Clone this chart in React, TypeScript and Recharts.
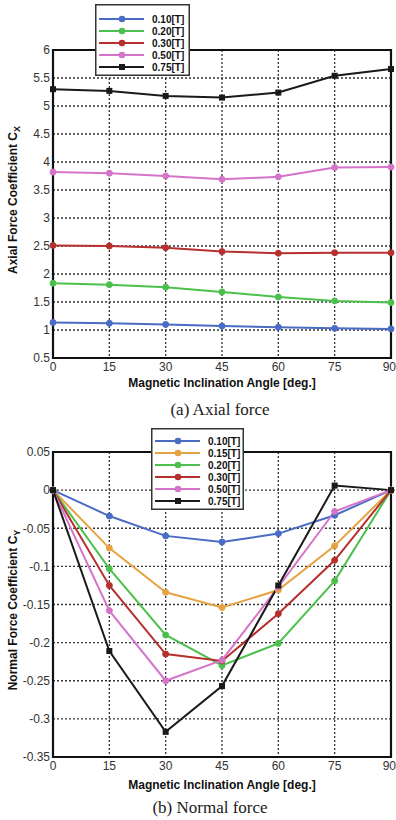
import React from 'react';
import { LineChart, Line, XAxis, YAxis, CartesianGrid, ReferenceArea } from 'recharts';

// ---------- data ----------
const angles = [0, 15, 30, 45, 60, 75, 90];
const angleTicks = [0, 15, 30, 45, 60, 75, 90];

// (a) Axial force coefficient Cx
const cx010 = [1.135, 1.12, 1.10, 1.07, 1.05, 1.03, 1.02];
const cx020 = [1.835, 1.81, 1.765, 1.68, 1.59, 1.52, 1.49];
const cx030 = [2.51, 2.50, 2.47, 2.40, 2.37, 2.38, 2.38];
const cx050 = [3.82, 3.80, 3.75, 3.69, 3.735, 3.90, 3.91];
const cx075 = [5.30, 5.27, 5.18, 5.15, 5.24, 5.54, 5.66];
const cxTicks = [0.5, 1, 1.5, 2, 2.5, 3, 3.5, 4, 4.5, 5, 5.5, 6];

// (b) Normal force coefficient Cy
const cy010 = [0, -0.034, -0.060, -0.068, -0.057, -0.033, 0];
const cy015 = [0, -0.076, -0.134, -0.154, -0.131, -0.073, 0];
const cy020 = [0, -0.103, -0.190, -0.230, -0.201, -0.119, 0];
const cy030 = [0, -0.125, -0.215, -0.224, -0.162, -0.092, 0];
const cy050 = [0, -0.158, -0.250, -0.223, -0.127, -0.028, 0];
const cy075 = [0, -0.211, -0.317, -0.257, -0.125, 0.006, 0];
const cyTicks = [-0.35, -0.3, -0.25, -0.2, -0.15, -0.1, -0.05, 0, 0.05];

const BLUE = '#4a6cc4';
const ORANGE = '#e6a344';
const GREEN = '#4cc04c';
const RED = '#b5302e';
const PINK = '#d574c9';
const BLACK = '#1a1a1a';

const topSeries = [
  { key: 'a', name: '0.10[T]', color: BLUE, values: cx010, square: false },
  { key: 'b', name: '0.20[T]', color: GREEN, values: cx020, square: false },
  { key: 'c', name: '0.30[T]', color: RED, values: cx030, square: false },
  { key: 'd', name: '0.50[T]', color: PINK, values: cx050, square: false },
  { key: 'e', name: '0.75[T]', color: BLACK, values: cx075, square: true },
];
const bottomSeries = [
  { key: 'a', name: '0.10[T]', color: BLUE, values: cy010, square: false },
  { key: 'b', name: '0.15[T]', color: ORANGE, values: cy015, square: false },
  { key: 'c', name: '0.20[T]', color: GREEN, values: cy020, square: false },
  { key: 'd', name: '0.30[T]', color: RED, values: cy030, square: false },
  { key: 'e', name: '0.50[T]', color: PINK, values: cy050, square: false },
  { key: 'f', name: '0.75[T]', color: BLACK, values: cy075, square: true },
];

// minor tick positions (axis decoration)
const minorRange = (lo: number, hi: number, step: number) => {
  const out: number[] = [];
  const n = Math.round((hi - lo) / step);
  for (let i = 0; i <= n; i++) out.push(Math.round((lo + i * step) * 1000) / 1000);
  return out;
};
const minorX = minorRange(0, 90, 3);
const minorTop = minorRange(0.5, 6, 0.1);
const minorBottom = minorRange(-0.35, 0.05, 0.01);

const buildRows = (series: typeof topSeries) =>
  angles.map((a, i) => {
    const row: any = { x: a };
    series.forEach((s) => (row[s.key] = s.values[i]));
    return row;
  });

const FONT = 'Liberation Sans, Arial, sans-serif';
const tickStyle = { fontSize: 12, fill: '#333', fontFamily: FONT };

const XTick = (props: any) => {
  const { x, y, payload } = props;
  const last = payload.value === 90;
  return (
    <text
      x={last ? 396 : x} y={y} dy="0.71em" textAnchor={last ? 'end' : 'middle'}
      style={tickStyle}
    >
      {payload.value}
    </text>
  );
};

const SquareDot = (color: string) => (props: any) => {
  const { cx, cy, index } = props;
  if (cx == null || cy == null) return <g key={index} />;
  return <rect key={index} x={cx - 3} y={cy - 3} width={6} height={6} fill={color} />;
};

function Panel({
  series, domain, ticks, minorY, margin, height,
}: {
  series: typeof topSeries; domain: [number, number]; ticks: number[]; minorY: number[];
  margin: { top: number; right: number; left: number; bottom: number }; height: number;
}) {
  const rows = buildRows(series);
  return (
    <LineChart width={396} height={height} data={rows} margin={margin}>
      <CartesianGrid stroke="#333" strokeDasharray="2 2" strokeWidth={1.3} />
      <XAxis
        dataKey="x" type="number" domain={[0, 90]} ticks={angleTicks}
        tickLine={false} axisLine={false} tickSize={0} tickMargin={4} height={20}
        tick={<XTick />} interval={0}
      />
      <XAxis
        xAxisId="xmin" dataKey="x" type="number" domain={[0, 90]} ticks={minorX}
        mirror tick={false} tickSize={3} axisLine={false} tickLine={{ stroke: '#111', strokeWidth: 1.3 }}
        interval={0}
      />
      <XAxis
        xAxisId="xmaj" dataKey="x" type="number" domain={[0, 90]} ticks={angleTicks}
        mirror tick={false} tickSize={6} axisLine={false} tickLine={{ stroke: '#111', strokeWidth: 1.5 }}
        interval={0}
      />
      <YAxis
        type="number" domain={domain} ticks={ticks} width={53}
        tickLine={false} axisLine={false} tickSize={0} tickMargin={3}
        tick={tickStyle} interval={0} allowDataOverflow
      />
      <YAxis
        yAxisId="ymin" type="number" domain={domain} ticks={minorY}
        mirror tick={false} tickSize={3} axisLine={false} tickLine={{ stroke: '#111', strokeWidth: 1.3 }}
        interval={0} allowDataOverflow
      />
      <YAxis
        yAxisId="ymaj" type="number" domain={domain} ticks={ticks}
        mirror tick={false} tickSize={6} axisLine={false} tickLine={{ stroke: '#111', strokeWidth: 1.5 }}
        interval={0} allowDataOverflow
      />
      <ReferenceArea
        x1={0} x2={90} y1={domain[0]} y2={domain[1]}
        fill="none" fillOpacity={0} stroke="#111" strokeWidth={2.2} ifOverflow="visible"
      />
      {series.map((s) => (
        <Line
          key={s.key} dataKey={s.key} type="linear" stroke={s.color} strokeWidth={2}
          isAnimationActive={false}
          dot={s.square ? SquareDot(s.color) : { r: 3, fill: s.color, stroke: s.color, strokeWidth: 1 }}
          activeDot={false}
        />
      ))}
    </LineChart>
  );
}

function LegendBox({
  series, left, top, width, height, firstRow,
}: { series: typeof topSeries; left: number; top: number; width: number; height: number; firstRow: number }) {
  return (
    <svg
      width={width} height={height}
      style={{ position: 'absolute', left, top, background: '#fff', overflow: 'visible' }}
    >
      <rect x={0.75} y={0.75} width={width - 1.5} height={height - 1.5} fill="#fff" stroke="#333" strokeWidth={1.5} />
      {series.map((s, i) => {
        const y = firstRow + i * 12;
        return (
          <g key={s.key}>
            <line x1={4} x2={49} y1={y} y2={y} stroke={s.color} strokeWidth={2.2} />
            {s.square ? (
              <rect x={24} y={y - 3} width={6} height={6} fill={s.color} />
            ) : (
              <circle cx={27} cy={y} r={3.3} fill={s.color} />
            )}
            <text
              x={57} y={y} dominantBaseline="central"
              style={{ fontSize: 10, fontWeight: 700, fontFamily: FONT, fill: '#111' }}
            >
              {s.name}
            </text>
          </g>
        );
      })}
    </svg>
  );
}

const titleStyle: React.CSSProperties = {
  position: 'absolute', whiteSpace: 'nowrap', fontFamily: FONT,
  fontWeight: 700, fontSize: 12, color: '#111', lineHeight: '14px',
};
const captionStyle: React.CSSProperties = {
  position: 'absolute', whiteSpace: 'nowrap', fontFamily: 'Liberation Serif, Times New Roman, serif',
  fontSize: 17, color: '#1a1a1a', lineHeight: '20px',
};

export default function App() {
  return (
    <div style={{ position: 'absolute', left: 0, top: 0, width: 396, height: 820, background: '#fff', overflow: 'hidden' }}>
      {/* (a) Axial force */}
      <div style={{ position: 'absolute', left: 0, top: 0 }}>
        <Panel
          series={topSeries} domain={[0.5, 6]} ticks={cxTicks} minorY={minorTop}
          margin={{ top: 50, right: 5, left: 0, bottom: 22 }} height={400}
        />
      </div>
      <LegendBox series={topSeries} left={95} top={4} width={95} height={72} firstRow={15} />
      <div style={{ ...titleStyle, left: 15, top: 200, transform: 'translate(-50%, -50%) rotate(-90deg)' }}>
        Axial Force Coefficient C<sub style={{ fontSize: 9 }}>X</sub>
      </div>
      <div style={{ ...titleStyle, left: 222, top: 383, transform: 'translate(-50%, -50%)' }}>
        Magnetic Inclination Angle [deg.]
      </div>
      <div style={{ ...captionStyle, left: 220, top: 410, transform: 'translate(-50%, -50%)' }}>
        (a) Axial force
      </div>

      {/* (b) Normal force */}
      <div style={{ position: 'absolute', left: 0, top: 410 }}>
        <Panel
          series={bottomSeries} domain={[-0.35, 0.05]} ticks={cyTicks} minorY={minorBottom}
          margin={{ top: 42, right: 5, left: 0, bottom: 33 }} height={400}
        />
      </div>
      <LegendBox series={bottomSeries} left={151} top={428} width={93} height={82} firstRow={13} />
      <div style={{ ...titleStyle, left: 15, top: 610, transform: 'translate(-50%, -50%) rotate(-90deg)' }}>
        Normal Force Coefficient C<sub style={{ fontSize: 9 }}>Y</sub>
      </div>
      <div style={{ ...titleStyle, left: 222, top: 785, transform: 'translate(-50%, -50%)' }}>
        Magnetic Inclination Angle [deg.]
      </div>
      <div style={{ ...captionStyle, left: 210, top: 808, transform: 'translate(-50%, -50%)' }}>
        (b) Normal force
      </div>
    </div>
  );
}
